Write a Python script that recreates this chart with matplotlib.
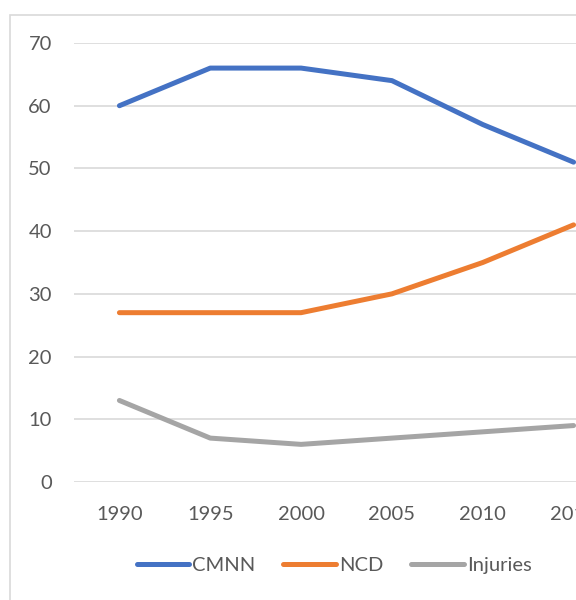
import matplotlib.pyplot as plt
from matplotlib.patches import Rectangle

years = ["1990", "1995", "2000", "2005", "2010", "2015"]
cmnn = [60, 66, 66, 64, 57, 51]
ncd = [27, 27, 27, 30, 35, 41]
injuries = [13, 7, 6, 7, 8, 9]

series = [
    ("CMNN", cmnn, "#4472C4"),
    ("NCD", ncd, "#ED7D31"),
    ("Injuries", injuries, "#A5A5A5"),
]

plt.rcParams["font.family"] = ["Lato", "DejaVu Sans"]
text_color = "#595959"
grid_color = "#D9D9D9"

W, H = 576, 600
fig = plt.figure(figsize=(W / 100, H / 100), dpi=100)

# plot area runs past the right edge of the canvas
left, right, bottom, top = 74, 619, 482, 43
ax = fig.add_axes([left / W, 1 - bottom / H, (right - left) / W, (bottom - top) / H])

x = list(range(len(years)))
for name, vals, color in series:
    ax.plot(x, vals, color=color, lw=3.6, solid_capstyle="round",
            solid_joinstyle="round", label=name, clip_on=False)

ax.set_xlim(-0.5, len(years) - 0.5)
ax.set_ylim(0, 70)
ax.set_yticks(range(0, 71, 10))
ax.set_xticks(x)
ax.set_xticklabels(years)
ax.grid(axis="y", color=grid_color, lw=1.2)
ax.set_axisbelow(True)
for s in ax.spines.values():
    s.set_visible(False)
ax.tick_params(axis="both", length=0, labelsize=14.5, labelcolor=text_color)
ax.tick_params(axis="x", pad=17)
ax.tick_params(axis="y", pad=16)

# chart frame
fig.patches.append(Rectangle((10 / W, -0.1), 2, 1 - 15 / H + 0.1,
                             transform=fig.transFigure, fill=False,
                             edgecolor=grid_color, lw=1.2))

fig.legend(loc="center", bbox_to_anchor=(334 / W, 1 - 565 / H), ncol=3,
           frameon=False, fontsize=14.5, labelcolor=text_color,
           handlelength=2.6, handletextpad=0.15, columnspacing=1.4)

fig.savefig("out.png", dpi=100)
